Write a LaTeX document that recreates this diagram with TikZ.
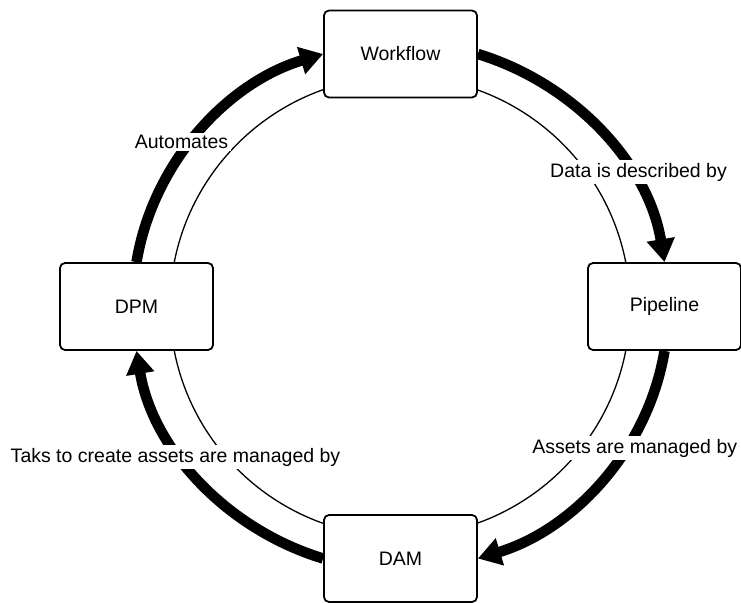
\documentclass[tikz,border=0pt]{standalone}
\usepackage{fontspec}
\setmainfont{Liberation Sans}
\usetikzlibrary{arrows.meta}

\tikzset{
  stage/.style={draw, line width=1.8pt, rounded corners=5pt, fill=white,
    minimum width=153pt, minimum height=87pt, inner sep=0pt},
  flow/.style={line width=10.5pt, -{Triangle[length=23pt,width=27pt]}},
  ring/.style={line width=1.3pt},
  tag/.style={fill=white, inner sep=2.5pt}
}

\begin{document}
\begin{tikzpicture}[x=1pt, y=-1pt, font=\fontsize{19.5}{23}\selectfont]
  \useasboundingbox (0,0) rectangle (741,602);

  % centre of the cycle and the thin inner ring
  \coordinate (c) at (400,306.5);
  \draw[ring] (c) circle[radius=230pt];

  % the four stages
  \node[stage] (wf)  at (400.5,54)    {Workflow};
  \node[stage] (dpm) at (136.5,306.5) {DPM};
  \node[stage] (pl)  at (664.5,306.5) {Pipeline};
  \node[stage] (dam) at (400.5,558.5) {DAM};

  % thick clockwise arrows between the stages
  \draw[flow] (dpm.north) to[out=80.6, in=196.7, looseness=0.92] (wf.west);
  \draw[flow] (wf.east)   to[out=-17,  in=99.4,  looseness=0.92] (pl.north);
  \draw[flow] (pl.south)  to[out=260.6, in=16.9, looseness=0.92] (dam.east);
  \draw[flow] (dam.west)  to[out=163.1, in=-80.6, looseness=0.92] (dpm.south);

  % relation labels
  \node[tag] (l1) at (181.5,142) {Automates};
  \node[tag] (l2) at (638.5,172) {Data is described by};
  \node[tag] (l3) at (634.7,448) {Assets are managed by};
  \node[tag] (l4) at (175.5,457) {Taks to create assets are managed by};
\end{tikzpicture}
\end{document}
